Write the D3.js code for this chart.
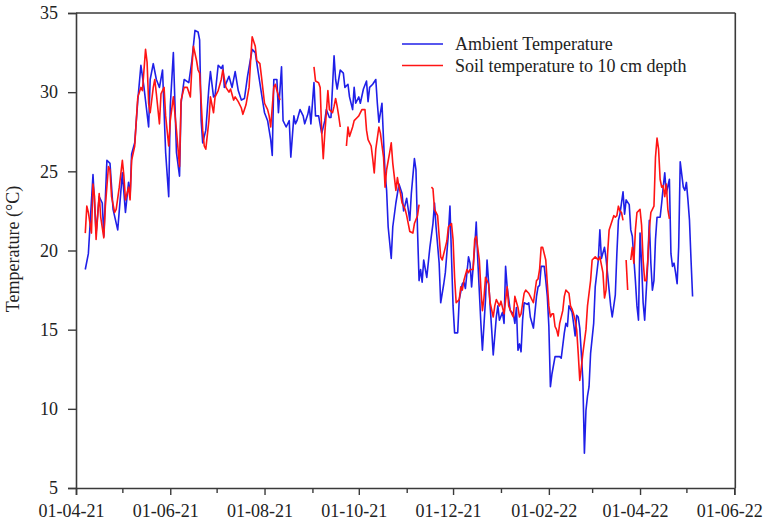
<!DOCTYPE html>
<html><head><meta charset="utf-8">
<script src="https://cdn.jsdelivr.net/npm/d3@7"></script>
<style>body{margin:0;background:#fff} svg{display:block}</style>
</head><body><svg id="c" width="768" height="527"></svg>
<script>
// ---- data ----
const startDate = "2021-04-01";           // day 0 of the day offsets below
const xTickLabels = ["01-04-21","01-06-21","01-08-21","01-10-21","01-12-21","01-02-22","01-04-22","01-06-22"];
const yTickValues = [5,10,15,20,25,30,35];
const seriesNames = ["Ambient Temperature","Soil temperature to 10 cm depth"];

const ambientDays = [6,8,11,13,15,17,18,20,22,24,27,30,32,34,35,36,38,40,42,44,47,48,50,52,54,56,58,60,61,63,65,67,68,70,73,75,77,79,80,81,82,84,86,87,89,90,92,94,95,96,99,101,103,105,107,109,111,114,116,118,121,122,124,126,127,128,130,131,133,134,136,138,139,141,142,143,145,147,148,150,151,152,154,155,157,159,161,162,164,165,167,168,169,171,173,174,176,177,179,180,181,183,184,186,188,189,190,192,194,195,196,198,199,200,201,202,204,205,207,209,211,212,214,216,217,219,220,221,222,223,224,225,227,229,231,232,233,235,236,238,239,241,242,243,244,245,247,248,250,251,252,254,255,256,258,259,260,262,263,265,266,267,269,270,272,273,274,276,277,278,279,281,283,284,285,286,287,288,289,290,292,293,294,296,298,299,300,301,303,304,305,306,307,308,310,311,313,314,316,317,318,319,321,322,323,324,325,326,327,328,329,330,331,332,333,335,336,338,339,340,342,343,345,346,347,349,350,351,352,354,355,356,358,359,360,362,363,364,365,366,367,368,370,371,372,373,374,375,376,378,379,380,381,382,384,385,386,387,388,389,390,391,393,394,395,396,397,398,399];
const ambientTemp = [18.8,19.8,24.8,21.1,23.4,23.0,20.9,25.7,25.5,22.6,21.3,24.9,22.4,24.3,23.4,26.1,26.8,29.5,31.7,30.3,27.8,30.8,31.8,30.8,30.3,31.4,26.2,23.4,29.1,32.5,26.2,24.7,29.3,30.8,30.6,32.0,33.9,33.8,33.3,28.2,26.8,27.6,30.3,31.3,29.7,29.8,31.7,31.5,31.7,30.3,31.0,30.3,31.3,30.1,29.5,29.6,31.0,32.7,32.5,31.2,29.3,28.7,28.2,27.0,26.0,30.8,30.8,28.7,31.6,28.2,27.8,28.2,25.9,28.5,28.0,28.2,28.9,28.5,28.0,28.6,29.1,28.0,30.6,28.5,28.5,27.4,28.2,28.9,28.4,28.4,32.3,30.8,30.2,31.4,31.2,30.3,30.5,29.7,28.9,30.3,29.3,29.7,29.3,30.2,30.7,29.4,30.3,30.5,30.8,29.3,28.1,29.3,27.0,24.9,23.8,21.5,19.5,21.5,23.0,24.2,23.6,22.5,23.3,21.9,23.6,25.8,25.1,21.3,18.1,18.8,18.0,19.4,18.3,20.2,21.7,23.0,21.5,19.2,16.7,17.9,18.6,21.1,22.8,19.6,16.5,14.8,14.8,16.9,17.9,18.0,17.6,19.6,19.2,17.7,20.2,21.8,19.4,15.4,13.7,16.9,19.4,18.0,15.0,13.4,15.8,16.5,15.6,16.1,15.4,19.0,17.7,16.2,16.0,15.4,16.4,13.7,14.1,13.6,15.6,16.7,16.6,16.7,15.8,15.1,17.1,17.7,17.8,19.0,19.0,18.1,17.1,15.2,11.4,12.2,13.3,13.3,13.3,13.2,14.8,15.4,15.2,16.5,16.1,15.4,14.6,15.9,15.8,15.1,13.5,11.8,7.2,9.9,10.8,11.4,13.5,15.4,17.7,19.4,21.3,19.5,20.2,19.5,17.5,16.5,15.8,17.2,19.8,21.9,22.3,23.7,22.3,23.2,22.9,21.3,20.9,18.1,16.5,15.6,21.1,19.2,16.7,15.6,19.2,21.9,19.2,17.5,18.1,20.7,22.1,22.1,23.0,24.0,24.9,23.6,24.5,19.8,19.0,19.2,18.6,17.9,20.2,25.6,24.0,23.8,24.3,23.2,21.9,19.4,17.1];

// null = no soil measurement (gap in the red line)
const soilDays = [6,7,8,10,11,12,13,15,16,18,19,21,22,23,25,26,28,30,31,32,34,35,36,38,39,40,42,43,45,46,47,48,50,51,52,54,55,57,58,60,61,63,65,67,68,70,72,74,75,76,78,79,80,82,83,84,86,87,89,90,92,94,95,97,99,100,102,103,105,107,108,110,112,113,114,116,117,119,120,122,124,125,126,128,129,130,132,
  143,
  154,155,157,158,159,160,161,162,163,164,166,167,168,169,170,171,
  173,
  175,176,177,179,180,182,183,185,187,188,189,191,192,193,194,196,197,199,200,201,203,204,205,207,208,209,210,211,213,214,216,218,219,221,222,
  226,
  230,231,232,234,235,236,237,239,240,241,243,244,245,246,248,249,250,251,253,254,255,257,258,259,261,262,263,264,265,267,268,270,271,272,274,275,277,279,280,282,283,284,286,287,288,290,291,293,294,296,298,299,300,301,302,304,305,306,307,308,309,310,311,312,313,315,316,317,319,320,321,322,323,324,325,326,327,328,330,331,333,334,336,337,338,339,341,342,343,344,345,347,348,349,350,351,352,353,354,
  355,
  356,357,
  358,
  359,360,361,362,363,365,366,367,368,369,370,371,372,373,374,375,376,377,378,379,380,381,382,383,384];
const soilTemp = [21.1,22.8,22.4,21.1,24.2,23.4,20.7,23.6,22.1,20.8,22.8,25.3,25.1,23.4,22.4,22.6,24.0,25.7,24.7,23.2,24.0,23.2,25.7,26.6,28.2,29.7,30.3,30.1,32.7,31.9,29.3,28.7,30.3,30.8,29.9,28.0,29.9,30.3,28.5,26.6,28.2,29.7,27.6,25.3,29.5,30.3,30.3,29.7,31.6,32.9,32.0,31.4,31.2,27.6,26.6,26.4,28.2,29.7,28.7,29.7,30.1,30.8,31.4,30.3,30.0,30.2,29.5,29.7,29.4,29.0,28.6,29.2,30.3,32.0,33.5,32.9,32.0,31.8,31.0,29.3,28.9,28.5,27.8,30.3,30.5,30.1,29.5,
  null,
  31.6,30.7,30.6,30.3,27.5,25.8,27.4,28.7,30.1,28.9,28.7,29.1,29.6,29.1,28.5,27.8,
  null,
  26.6,27.8,27.2,27.8,28.2,28.4,28.5,28.9,28.9,27.6,27.0,26.6,25.8,24.9,26.4,27.8,27.4,25.9,24.0,25.1,26.2,26.8,25.5,23.8,24.6,24.0,23.6,23.0,22.6,22.2,21.2,21.1,21.7,22.2,22.9,
  null,
  24.0,23.9,22.6,22.2,20.9,19.6,19.4,20.2,20.6,21.5,21.7,20.7,18.3,16.7,16.9,17.7,17.5,18.1,18.8,18.6,18.8,18.8,20.7,20.9,19.4,17.6,16.2,17.0,18.3,17.9,16.7,15.8,16.5,16.9,16.5,16.8,16.0,17.7,16.5,16.0,15.8,17.1,16.4,15.8,16.0,17.3,17.5,17.3,17.1,16.7,18.1,18.2,18.8,20.2,20.2,19.4,17.9,16.5,15.8,16.0,16.0,15.2,15.0,14.6,15.4,16.2,17.1,17.5,17.3,16.5,16.3,16.0,15.6,15.0,13.5,11.8,12.6,13.5,15.0,16.5,18.1,19.4,19.6,19.5,19.4,19.6,18.6,17.0,17.5,19.8,21.3,21.9,22.2,22.1,22.2,22.8,22.5,22.4,21.9,
  null,
  19.4,17.5,
  null,
  19.4,20.2,19.2,21.3,22.4,22.6,21.6,19.4,18.1,18.1,19.4,21.3,22.4,22.6,22.8,25.9,27.1,26.4,24.5,24.0,24.1,23.4,24.2,22.6,22.0];

// ---- drawing ----
const font = "'Liberation Serif','Times New Roman',serif";
const axisColor = "#3a3a3a";
const parseDay = d3.timeParse("%Y-%m-%d");
const t0 = parseDay(startDate);
const toDate = d => d3.timeDay.offset(t0, d);

const ambient = ambientDays.map((d,i)=>({date:toDate(d), v:ambientTemp[i]}));
const soil = soilDays.map((d,i)=>({date:toDate(d), v:soilTemp[i]}));

const svg = d3.select("#c");
const pLeft = 76, pRight = 734.3, pTop = 13, pBottom = 488;

const x = d3.scaleTime().domain([t0, d3.timeMonth.offset(t0, 14)]).range([pLeft, pRight]);
const y = d3.scaleLinear().domain([5,35]).range([pBottom, pTop]);

// frame (top and right)
svg.append("line").attr("x1",pLeft).attr("x2",pRight+1).attr("y1",pTop).attr("y2",pTop)
  .attr("stroke",axisColor).attr("stroke-width",1.6);
svg.append("line").attr("x1",pRight+1).attr("x2",pRight+1).attr("y1",pTop).attr("y2",pBottom)
  .attr("stroke",axisColor).attr("stroke-width",1.6);

// x axis: ticks every month, labels every 2 months
const monthTicks = d3.timeMonth.range(t0, d3.timeMonth.offset(t0, 15));
const xAxis = d3.axisBottom(x).tickValues(monthTicks).tickSizeOuter(0).tickSize(7).tickPadding(9)
  .tickFormat((d,i) => i % 2 === 0 ? xTickLabels[i/2] : "");
const gx = svg.append("g").attr("transform",`translate(0,${pBottom})`).call(xAxis);
gx.selectAll(".tick line").attr("y2",(d,i)=> i%2===0 ? 7 : 5);
gx.selectAll("text").attr("dx",-5);

const yAxis = d3.axisLeft(y).tickValues(yTickValues).tickSizeOuter(0).tickSize(8).tickPadding(10);
const gy = svg.append("g").attr("transform",`translate(${pLeft},0)`).call(yAxis);

[gx, gy].forEach(g=>{
  g.select(".domain").attr("stroke",axisColor).attr("stroke-width",1.6);
  g.selectAll(".tick line").attr("stroke",axisColor).attr("stroke-width",1.4);
  g.selectAll("text").attr("fill","#222").style("font-family",font).style("font-size","18px");
});

// y label
svg.append("text").attr("transform","translate(19,249) rotate(-90)")
  .attr("text-anchor","middle").attr("fill","#222")
  .style("font-family",font).style("font-size","18px").text("Temperature (°C)");

// lines
const line = d3.line().defined(d=>d.v!=null).x(d=>x(d.date)).y(d=>y(d.v));
const colors = ["#1f1fe8","#ff1414"];
svg.append("path").datum(ambient).attr("d",line).attr("fill","none")
  .attr("stroke",colors[0]).attr("stroke-width",1.6).attr("stroke-linejoin","round");
svg.append("path").datum(soil).attr("d",line).attr("fill","none")
  .attr("stroke",colors[1]).attr("stroke-width",1.6).attr("stroke-linejoin","round");

// legend
const lg = svg.append("g");
seriesNames.forEach((name,i)=>{
  const yy = 44 + i*21.5;
  lg.append("line").attr("x1",402).attr("x2",443).attr("y1",yy).attr("y2",yy)
    .attr("stroke",colors[i]).attr("stroke-width",1.6);
  lg.append("text").attr("x",455).attr("y",yy+6).attr("fill","#222")
    .style("font-family",font).style("font-size","18px").text(name);
});
</script>
</body></html>
